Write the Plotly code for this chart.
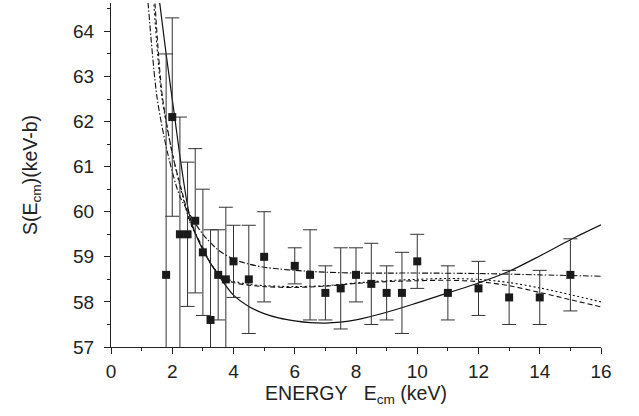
import plotly.graph_objects as go

# Experimental data
energy = [1.8, 2.0, 2.25, 2.5, 2.75, 3.0, 3.25, 3.5, 3.75, 4.0, 4.5, 5.0, 6.0, 6.5,
          7.0, 7.5, 8.0, 8.5, 9.0, 9.5, 10.0, 11.0, 12.0, 13.0, 14.0, 15.0]
s_factor = [58.6, 62.1, 59.5, 59.5, 59.8, 59.1, 57.6, 58.6, 58.5, 58.9, 58.5, 59.0, 58.8, 58.6,
            58.2, 58.3, 58.6, 58.4, 58.2, 58.2, 58.9, 58.2, 58.3, 58.1, 58.1, 58.6]
s_err = [4.9, 2.2, 2.6, 1.6, 1.6, 1.4, 2.0, 1.0, 1.6, 0.8, 1.2, 1.0, 0.4, 1.0,
         0.6, 0.9, 0.6, 0.9, 0.6, 0.9, 0.6, 0.6, 0.6, 0.6, 0.6, 0.8]

# Fit curves
solid_x = [1.55, 1.8, 2.08, 2.3, 2.59, 3.0, 3.5, 4.0, 4.5, 5.0, 5.5, 6.0, 6.5, 7.0, 7.5,
           8.0, 9.0, 10.0, 11.0, 12.0, 13.0, 14.0, 15.0, 16.0]
solid_y = [64.85, 63.5, 62.1, 61.0, 59.85, 59.15, 58.6, 58.15, 57.9, 57.74, 57.64, 57.58,
           57.54, 57.53, 57.55, 57.6, 57.77, 57.98, 58.2, 58.42, 58.68, 59.02, 59.38, 59.71]

dashdot_x = [1.18, 1.5, 1.85, 2.25, 2.7, 3.0, 3.5, 4.0, 4.5, 5.0, 5.5, 6.0, 7.0, 8.0,
             10.0, 12.0, 14.0, 16.0]
dashdot_y = [64.9, 62.55, 61.3, 60.34, 59.8, 59.5, 59.15, 58.95, 58.84, 58.77, 58.73, 58.7,
             58.66, 58.64, 58.64, 58.63, 58.6, 58.57]

dashed_x = [1.42, 1.67, 2.0, 2.36, 2.6, 3.0, 3.25, 3.5, 3.75, 4.0, 4.5, 5.0, 6.0, 7.0, 8.0,
            9.0, 10.0, 11.0, 12.0, 13.0, 14.0, 15.0, 16.0]
dashed_y = [64.8, 62.6, 61.3, 60.34, 59.75, 59.2, 58.86, 58.63, 58.5, 58.43, 58.37, 58.34,
            58.32, 58.35, 58.41, 58.45, 58.47, 58.48, 58.45, 58.36, 58.21, 58.05, 57.89]

dotted_x = [1.38, 1.65, 2.0, 2.34, 2.6, 3.0, 3.25, 3.5, 3.75, 4.0, 4.5, 5.0, 6.0, 7.0, 8.0,
            9.0, 10.0, 11.0, 12.0, 13.0, 14.0, 15.0, 16.0]
dotted_y = [64.8, 62.6, 61.3, 60.34, 59.73, 59.18, 58.85, 58.64, 58.52, 58.46, 58.39, 58.36,
            58.34, 58.36, 58.42, 58.47, 58.5, 58.52, 58.5, 58.43, 58.31, 58.16, 58.0]

fig = go.Figure()

fig.add_trace(go.Scatter(x=solid_x, y=solid_y, mode="lines",
                         line=dict(color="#111111", width=1.2, shape="spline", smoothing=0.8),
                         showlegend=False))
fig.add_trace(go.Scatter(x=dashdot_x, y=dashdot_y, mode="lines",
                         line=dict(color="#111111", width=1.1, dash="6px,2px,1.5px,2px",
                                   shape="spline", smoothing=0.8),
                         showlegend=False))
fig.add_trace(go.Scatter(x=dashed_x, y=dashed_y, mode="lines",
                         line=dict(color="#111111", width=1.1, dash="5px,3px",
                                   shape="spline", smoothing=0.8),
                         showlegend=False))
fig.add_trace(go.Scatter(x=dotted_x, y=dotted_y, mode="lines",
                         line=dict(color="#111111", width=1.1, dash="2px,2.5px",
                                   shape="spline", smoothing=0.8),
                         showlegend=False))

fig.add_trace(go.Scatter(
    x=energy, y=s_factor, mode="markers",
    marker=dict(symbol="square", size=8, color="#1a1a1a"),
    error_y=dict(type="data", array=s_err, visible=True, color="#333333",
                 thickness=1, width=7),
    showlegend=False))

font_family = "Liberation Sans, Arial, sans-serif"

fig.update_layout(
    width=639, height=416,
    margin=dict(l=111, r=38, t=3, b=69),
    paper_bgcolor="white", plot_bgcolor="white",
    font=dict(family=font_family, size=19, color="#222222"),
    xaxis=dict(
        range=[0, 16], dtick=2, tick0=0,
        showline=True, linecolor="#222222", linewidth=1.2,
        ticks="outside", ticklen=6, tickwidth=1, tickcolor="#222222",
        minor=dict(dtick=1, ticks="outside", ticklen=3, tickcolor="#222222"),
        showgrid=False, zeroline=False,
        ticklabelstandoff=1,
        title=dict(text="ENERGY\u00a0\u00a0\u00a0E<sub>cm</sub> (keV)", font=dict(size=19.5),
                   standoff=1),
    ),
    yaxis=dict(
        range=[57, 64.63], dtick=1, tick0=57,
        showline=True, linecolor="#222222", linewidth=1.2,
        ticks="outside", ticklen=6, tickwidth=1, tickcolor="#222222",
        minor=dict(dtick=0.5, ticks="outside", ticklen=3, tickcolor="#222222"),
        showgrid=False, zeroline=False,
        ticklabelstandoff=6,
        title=dict(text="S(E<sub>cm</sub>)(keV-b)", font=dict(size=19.5), standoff=30),
    ),
)

fig.write_html("out.html", config={"displayModeBar": False},
               post_script="document.body.style.margin='0';")
